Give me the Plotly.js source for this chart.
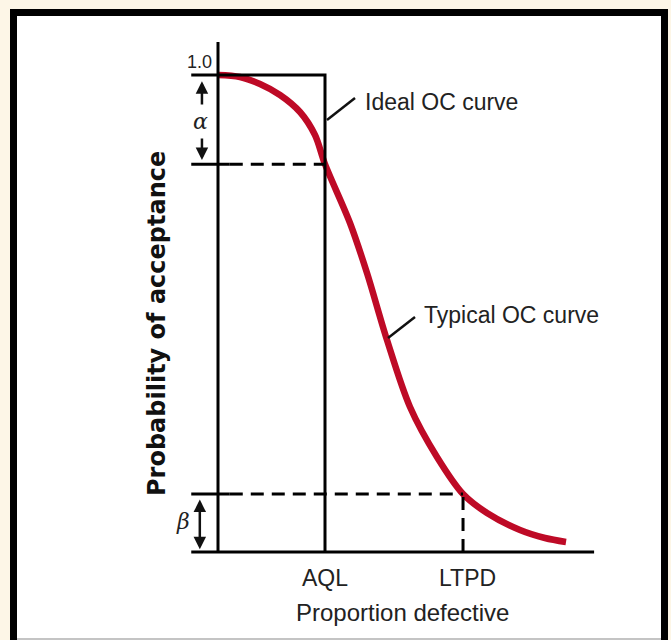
<!DOCTYPE html>
<html>
<head>
<meta charset="utf-8">
<script src="https://cdn.plot.ly/plotly-3.0.1.min.js"></script>
<style>
html,body{margin:0;padding:0;background:#fdf6e7;}
#chart{width:671px;height:640px;}
</style>
</head>
<body>
<div id="chart"></div>
<script>
// ---- data ----
// proportion defective (arbitrary scale: AQL = 0.02)
const typicalX = [0, 0.00411, 0.00785, 0.01159, 0.01533, 0.01813, 0.02, 0.02467, 0.02785, 0.03159, 0.03589, 0.04093, 0.0458, 0.05028, 0.05645, 0.06112, 0.06505];
const typicalY = [1.0, 0.9958, 0.9811, 0.9581, 0.9224, 0.8742, 0.813, 0.6897, 0.5849, 0.4444, 0.304, 0.1992, 0.1216, 0.0818, 0.0461, 0.0293, 0.021];
const AQL = 0.02;
const LTPD = 0.0458;
const idealX = [-0.005, AQL, AQL];
const idealY = [1.0, 1.0, 0.0];
const alphaLevel = 0.813;   // 1 - alpha
const betaLevel = 0.1216;   // beta
const xAxisEnd = 0.0703;
const yAxisTop = 1.069;
const tickLabels = ["AQL", "LTPD"];
const tickPos = [AQL, LTPD + 0.0009];

const sans = "'Liberation Sans', Arial, sans-serif";
const txt = "#222";
const tickL = -0.005, tickR = 0.0022;

const traces = [
  {x: typicalX, y: typicalY, mode: 'lines', line: {color: '#be0a26', width: 6.5, shape: 'spline', smoothing: 0.9}, hoverinfo: 'skip'},
  {x: idealX, y: idealY, mode: 'lines', line: {color: '#000', width: 3}, hoverinfo: 'skip'}
];

const shapes = [
  // frame
  {type: 'rect', xref: 'paper', yref: 'paper', x0: 13.5/671, x1: 664.5/671, y0: -0.05, y1: 1 - 12.5/640,
   line: {color: '#000', width: 7}, fillcolor: '#fff', layer: 'below'},
  {type: 'line', xref: 'paper', yref: 'paper', x0: 17/671, x1: 661/671, y0: 1 - 639/640, y1: 1 - 639/640,
   line: {color: '#c4c4c4', width: 2}},
  // axes
  {type: 'line', x0: 0, x1: 0, y0: 0, y1: yAxisTop, line: {color: '#000', width: 3}},
  {type: 'line', x0: tickL, x1: xAxisEnd, y0: 0, y1: 0, line: {color: '#000', width: 3}},
  // alpha level
  {type: 'line', x0: tickL, x1: tickR, y0: alphaLevel, y1: alphaLevel, line: {color: '#000', width: 3}},
  {type: 'line', x0: tickR, x1: AQL, y0: alphaLevel, y1: alphaLevel, line: {color: '#000', width: 3, dash: '13px,8px'}},
  // beta level
  {type: 'line', x0: tickL, x1: tickR, y0: betaLevel, y1: betaLevel, line: {color: '#000', width: 3}},
  {type: 'line', x0: tickR, x1: LTPD, y0: betaLevel, y1: betaLevel, line: {color: '#000', width: 3, dash: '13px,8px'}},
  {type: 'line', x0: LTPD, x1: LTPD, y0: 0, y1: betaLevel, line: {color: '#000', width: 3, dash: '13px,8px'}},
  // leader lines
  {type: 'line', x0: 0.02037, y0: 0.9057, x1: 0.02561, y1: 0.9518, line: {color: '#111', width: 2.5}},
  {type: 'line', x0: 0.03178, y0: 0.4486, x1: 0.03682, y1: 0.4927, line: {color: '#111', width: 2.5}}
];

const annotations = [
  {x: -0.00355, y: 1.027, text: '1.0', showarrow: false, font: {family: sans, size: 18, color: txt}},
  {x: 0.0271, y: 0.9434, text: 'Ideal OC curve', xanchor: 'left', showarrow: false, font: {family: sans, size: 23, color: txt}},
  {x: 0.03813, y: 0.4969, text: 'Typical OC curve', xanchor: 'left', showarrow: false, font: {family: sans, size: 23, color: txt}},
  {x: tickPos[0], y: -0.0545, text: tickLabels[0], showarrow: false, font: {family: sans, size: 23, color: txt}},
  {x: tickPos[1], y: -0.0545, text: tickLabels[1], showarrow: false, font: {family: sans, size: 23, color: txt}},
  {x: 0.0344, y: -0.1258, text: 'Proportion defective', showarrow: false, font: {family: sans, size: 24, color: txt}},
  {x: -0.0114, y: 0.478, text: '<b>Probability of acceptance</b>', textangle: -90, showarrow: false,
   font: {family: "'DejaVu Sans', sans-serif", size: 24, color: '#111'}},
  // alpha
  {x: -0.0032, y: 0.9015, text: '<i>α</i>', showarrow: false, font: {family: "'DejaVu Serif', serif", size: 22, color: txt}},
  {x: -0.003, y: 0.987, ax: -0.003, ay: 0.935, axref: 'x', ayref: 'y', text: '', showarrow: true,
   arrowhead: 2, arrowsize: 1, arrowwidth: 2.5, arrowcolor: '#111', standoff: 0},
  {x: -0.003, y: 0.822, ax: -0.003, ay: 0.870, axref: 'x', ayref: 'y', text: '', showarrow: true,
   arrowhead: 2, arrowsize: 1, arrowwidth: 2.5, arrowcolor: '#111', standoff: 0},
  // beta
  {x: -0.0065, y: 0.063, text: '<i>β</i>', showarrow: false, font: {family: "'DejaVu Serif', serif", size: 22, color: txt}},
  {x: -0.0034, y: 0.006, ax: -0.0034, ay: 0.113, axref: 'x', ayref: 'y', text: '', showarrow: true,
   arrowhead: 2, startarrowhead: 2, arrowside: 'end+start', arrowsize: 1, arrowwidth: 2.5, arrowcolor: '#111', standoff: 0, startstandoff: 0}
];

const layout = {
  width: 671, height: 640,
  margin: {l: 0, r: 0, t: 0, b: 0},
  paper_bgcolor: '#fdf6e7',
  plot_bgcolor: 'rgba(0,0,0,0)',
  showlegend: false,
  xaxis: {visible: false, range: [-0.040748, 0.084673], fixedrange: true},
  yaxis: {visible: false, range: [-0.18449, 1.15723], fixedrange: true},
  shapes: shapes,
  annotations: annotations
};

Plotly.newPlot('chart', traces, layout, {displayModeBar: false, staticPlot: true});
</script>
</body>
</html>
